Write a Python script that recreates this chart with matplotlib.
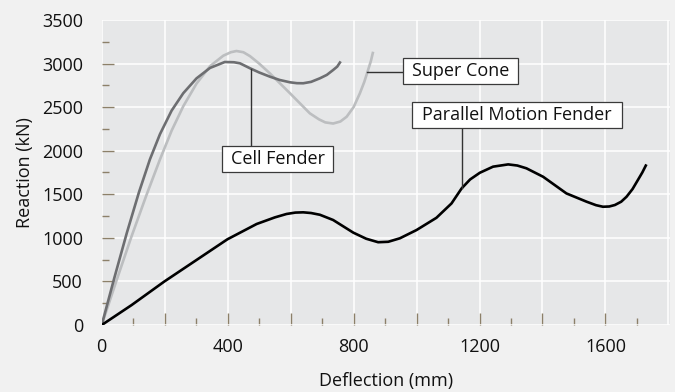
import numpy as np
import matplotlib
matplotlib.use("Agg")
import matplotlib.pyplot as plt
from matplotlib.patches import Rectangle
from matplotlib.ticker import MultipleLocator, FixedLocator

plt.rcParams["font.family"] = ["Open Sans", "DejaVu Sans"]

# Reaction-deflection curves (deflection in mm, reaction in kN)
cell_defl = [0, 40, 80, 118, 153, 185, 222, 259, 301, 344, 391, 420, 439,
             471, 500, 534, 565, 598, 620, 640, 665, 693, 715, 735, 748, 759]
cell_react = [0, 540, 1060, 1520, 1900, 2190, 2460, 2660, 2830, 2950, 3018,
              3015, 3003, 2946, 2898, 2850, 2812, 2785, 2775, 2774, 2790,
              2831, 2870, 2926, 2965, 3025]

cone_defl = [0, 45, 93, 142, 185, 222, 259, 301, 344, 386, 410, 428, 450,
             471, 500, 534, 598, 661, 690, 710, 735, 758, 778, 800, 820, 834,
             846, 855, 862]
cone_react = [0, 490, 1000, 1490, 1900, 2230, 2510, 2770, 2970, 3090, 3130,
              3144, 3130, 3085, 3000, 2888, 2659, 2429, 2360, 2325, 2312,
              2335, 2390, 2500, 2659, 2790, 2926, 3030, 3136]

pmf_defl = [0, 95, 198, 301, 399, 492, 550, 587, 615, 640, 665, 693, 735,
            799, 840, 878, 910, 947, 1000, 1063, 1111, 1143, 1170, 1201, 1243,
            1291, 1320, 1349, 1402, 1476, 1540, 1570, 1592, 1612, 1630, 1650,
            1667, 1686, 1703, 1717, 1730]
pmf_react = [0, 229, 497, 746, 983, 1159, 1235, 1274, 1290, 1293, 1285, 1265,
             1205, 1060, 990, 950, 955, 995, 1090, 1230, 1395, 1567, 1670,
             1747, 1817, 1843, 1830, 1798, 1701, 1510, 1415, 1375, 1357, 1360,
             1377, 1415, 1472, 1560, 1664, 1750, 1843]

x_ticks = [0, 400, 800, 1200, 1600]
y_ticks = [0, 500, 1000, 1500, 2000, 2500, 3000, 3500]

FIG_BG = "#f1f1f1"
AX_BG = "#e6e7e8"
TICK_C = "#8c8069"
TEXT_C = "#111111"
FS = 13

fig = plt.figure(figsize=(6.75, 3.92), dpi=100, facecolor=FIG_BG)
ax = fig.add_axes([0.1507, 0.1709, 0.8419, 0.7781], facecolor=AX_BG)

ax.set_xlim(0, 1805)
ax.set_ylim(0, 3500)

for s in ax.spines.values():
    s.set_visible(False)

# grid every 200 mm / 500 kN, labels every 400 mm
ax.xaxis.set_major_locator(MultipleLocator(200))
ax.xaxis.set_minor_locator(FixedLocator(np.arange(100, 1800, 200)))
ax.yaxis.set_major_locator(MultipleLocator(500))
ax.yaxis.set_minor_locator(FixedLocator(np.arange(250, 3500, 500)))
ax.set_xticklabels([str(int(v)) if int(v) in x_ticks else ""
                    for v in ax.get_xticks()])
ax.set_yticklabels([str(int(v)) if int(v) in y_ticks else ""
                    for v in ax.get_yticks()])

ax.grid(True, which="major", color="white", linewidth=1.1, zorder=0)
ax.set_axisbelow(True)

ax.tick_params(axis="both", which="major", direction="in", length=8.5,
               width=1.0, color=TICK_C, labelsize=FS, labelcolor=TEXT_C)
ax.tick_params(axis="both", which="minor", direction="in", length=5,
               width=1.0, color=TICK_C)
ax.tick_params(axis="y", which="major", pad=13.5)
ax.tick_params(axis="x", which="major", pad=9)

# no tick marks on the outer corners
for t in ax.xaxis.get_major_ticks():
    if t.get_loc() in (0, 1800):
        t.tick1line.set_visible(False)
for t in ax.yaxis.get_major_ticks():
    if t.get_loc() in (0, 3500):
        t.tick1line.set_visible(False)

ax.set_xlabel("Deflection (mm)", fontsize=FS, color=TEXT_C, labelpad=12)
ax.set_ylabel("Reaction (kN)", fontsize=FS, color=TEXT_C, labelpad=6)

line_kw = dict(lw=1.9, solid_joinstyle="round", solid_capstyle="butt")
ax.plot(cone_defl, cone_react, color="#bcbec0", zorder=3, **line_kw)
ax.plot(cell_defl, cell_react, color="#6d6e71", zorder=4, **line_kw)
ax.plot(pmf_defl, pmf_react, color="black", zorder=5, **line_kw)

LEAD_C = "#333333"


def label_box(x0, x1, y0, y1, text):
    ax.add_patch(Rectangle((x0, y0), x1 - x0, y1 - y0, facecolor="white",
                           edgecolor="#3a3a3a", linewidth=0.9, zorder=7))
    ax.text((x0 + x1) / 2, (y0 + y1) / 2, text, ha="center", va="center",
            fontsize=FS, color=TEXT_C, zorder=8)


# Cell Fender: vertical leader from the curve down to the box
lx = 473
ly = np.interp(lx, cell_defl, cell_react)
label_box(382, 735, 1755, 2053, "Cell Fender")
ax.plot([lx, lx], [ly, 2053], color=LEAD_C, lw=1.0, zorder=6)

# Super Cone: horizontal leader from the rising branch to the box
sy = 2900
sx = np.interp(sy, cone_react[-6:], cone_defl[-6:])
label_box(956, 1322, 2764, 3062, "Super Cone")
ax.plot([sx, 956], [sy, sy], color=LEAD_C, lw=1.0, zorder=6)

# Parallel Motion Fender: vertical leader up to the box
px = 1143
py = np.interp(px, pmf_defl, pmf_react)
label_box(985, 1654, 2259, 2557, "Parallel Motion Fender")
ax.plot([px, px], [py, 2259], color=LEAD_C, lw=1.0, zorder=6)

fig.savefig("out.png", dpi=100, facecolor=FIG_BG)
